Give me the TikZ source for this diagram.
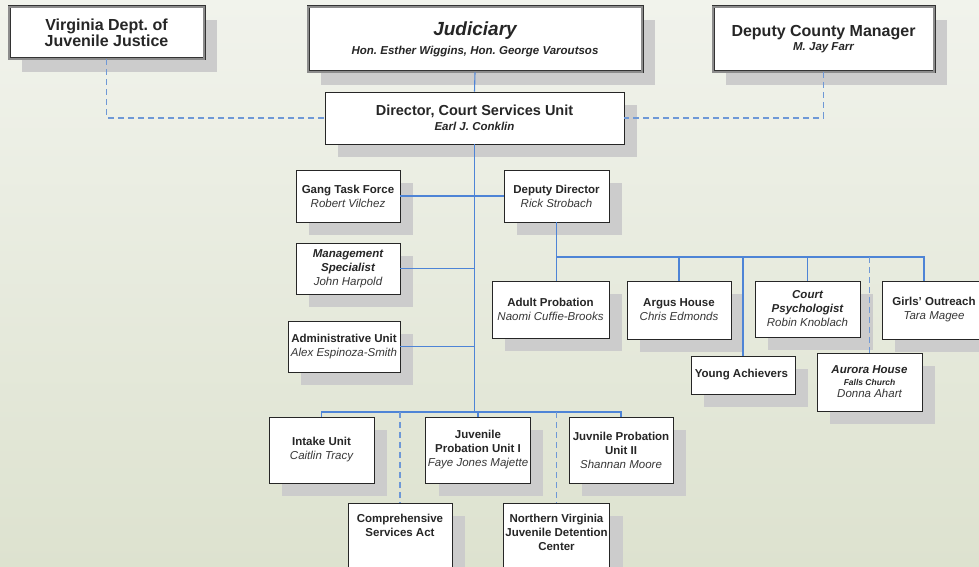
\documentclass[tikz,border=0pt]{standalone}
\usepackage{fontspec}
\setmainfont{Liberation Sans}
\usetikzlibrary{shadows}
\frenchspacing

\definecolor{linkblue}{RGB}{78,132,214}
\definecolor{dashblue}{RGB}{110,152,214}
\definecolor{bgtop}{RGB}{241,243,236}
\definecolor{bgbot}{RGB}{221,226,207}
\definecolor{inkname}{RGB}{55,55,55}
\newcommand{\pname}[1]{{\mdseries\itshape\color{inkname}#1}}

\begin{document}
\begin{tikzpicture}[x=1pt, y=-1pt,
  box/.style = {draw=black!85, fill=white, line width=0.8pt, align=center, inner sep=2pt,
    font=\fontsize{11.5}{14}\selectfont\bfseries, text=black!85,
    drop shadow={shadow xshift=13pt, shadow yshift=-13pt, fill=black!20, opacity=1}},
  topbox/.style = {box, draw=black!80, double=black!45, double distance=1.2pt, line width=0.9pt},
  wh/.style 2 args = {minimum width=#1pt, minimum height=#2pt},
  link/.style = {color=linkblue, line width=1.1pt},
  dlink/.style = {color=dashblue, line width=1.1pt, dash pattern=on 6pt off 4pt}]
\useasboundingbox (0,0) rectangle (979,567);
\shade[top color=bgtop, bottom color=bgbot] (0,0) rectangle (979,567);

% top row
\node[topbox, wh={195}{52}, font=\fontsize{16}{16}\selectfont\bfseries] (va_djj) at (106.5, 33) { Virginia Dept. of\\Juvenile Justice };
\node[topbox, wh={334}{65}] (judiciary) at (475, 39.5) { {\fontsize{19}{19}\selectfont\itshape Judiciary}\\[5pt]{\itshape Hon. Esther Wiggins, Hon. George Varoutsos} };
\node[topbox, wh={221}{65}] (dep_cm) at (823.5, 39.5) { {\fontsize{16}{16}\selectfont Deputy County Manager}\\[0pt]{\itshape M. Jay Farr} };
\node[box, wh={299}{52}] (director) at (474.5, 118) { {\fontsize{14.5}{15}\selectfont Director, Court Services Unit}\\[1pt]{\itshape Earl J. Conklin} };

% left column
\node[box, wh={104}{52}] (gang_task) at (348, 196) { Gang Task Force\\\pname{Robert Vilchez} };
\node[box, wh={104}{51}] (mgmt_spec) at (348, 268.5) { {\itshape Management}\\{\itshape Specialist}\\\pname{John Harpold} };
\node[box, wh={112}{51}] (admin_unit) at (344, 346.5) { Administrative Unit\\\pname{Alex Espinoza-Smith} };

% deputy director and units
\node[box, wh={105}{52}] (dep_dir) at (556.5, 196) { Deputy Director\\\pname{Rick Strobach} };
\node[box, wh={117}{57}] (adult_prob) at (550.5, 309.5) { Adult Probation\\\pname{Naomi Cuffie-Brooks} };
\node[box, wh={104}{58}] (argus) at (679, 310) { Argus House\\\pname{Chris Edmonds} };
\node[box, wh={105}{56}] (court_psych) at (807.5, 309) { {\itshape Court}\\{\itshape Psychologist}\\\pname{Robin Knoblach} };
\node[box, wh={104}{58}] (girls_out) at (934, 310) { Girls' Outreach\\\pname{Tara Magee} };
\node[box, wh={104}{38}] (young_ach) at (743, 375) { Young Achievers };
\node[box, wh={105}{58}] (aurora) at (869.5, 382) { {\itshape Aurora House}\\[-2pt]{\fontsize{8.5}{10}\selectfont\itshape Falls Church}\\[-2pt]\pname{Donna Ahart} };

% bottom row
\node[box, wh={105}{66}] (intake) at (321.5, 450) { Intake Unit\\\pname{Caitlin Tracy} };
\node[box, wh={104}{66}] (juv_prob1) at (478, 450) { Juvenile\\Probation Unit I\\\pname{Faye Jones Majette} };
\node[box, wh={104}{66}] (juv_prob2) at (621, 450) { Juvnile Probation\\Unit II\\\pname{Shannan Moore} };
\node[box, minimum width=104pt, anchor=north, inner ysep=11pt, text depth=80pt] (csa) at (400, 503) { Comprehensive\\Services Act };
\node[box, minimum width=105pt, anchor=north, inner ysep=11pt, text depth=80pt] (nvjdc) at (556.5, 503) { Northern Virginia\\Juvenile Detention\\Center };

\coordinate (dd_bus) at (556.5, 257);
\coordinate (low_bus) at (474.5, 412);

\begin{scope}[link]
\draw (judiciary.south) -- (director.north);
\draw (director.south) -- (low_bus);
\draw (gang_task.east) -- (dep_dir.west);
\draw (mgmt_spec.east) -- (mgmt_spec.east -| director.south);
\draw (admin_unit.east) -- (admin_unit.east -| director.south);
\draw (dep_dir.south) -- (dep_dir.south |- adult_prob.north);
\draw (dd_bus) -| ([xshift=-10pt]girls_out.north);
\draw (dd_bus -| argus.north) -- (argus.north);
\draw (dd_bus -| young_ach.north) -- (young_ach.north);
\draw (dd_bus -| court_psych.north) -- (court_psych.north);
\draw (intake.north) |- (low_bus) -| (juv_prob2.north);
\draw (low_bus -| juv_prob1.north) -- (juv_prob1.north);
\end{scope}

\begin{scope}[dlink]
\draw (va_djj.south) |- (director.west);
\draw (dep_cm.south) |- (director.east);
\draw (dd_bus -| aurora.north) -- (aurora.north);
\draw (low_bus -| csa.north) -- (csa.north);
\draw (low_bus -| nvjdc.north) -- (nvjdc.north);
\end{scope}
\end{tikzpicture}
\end{document}
